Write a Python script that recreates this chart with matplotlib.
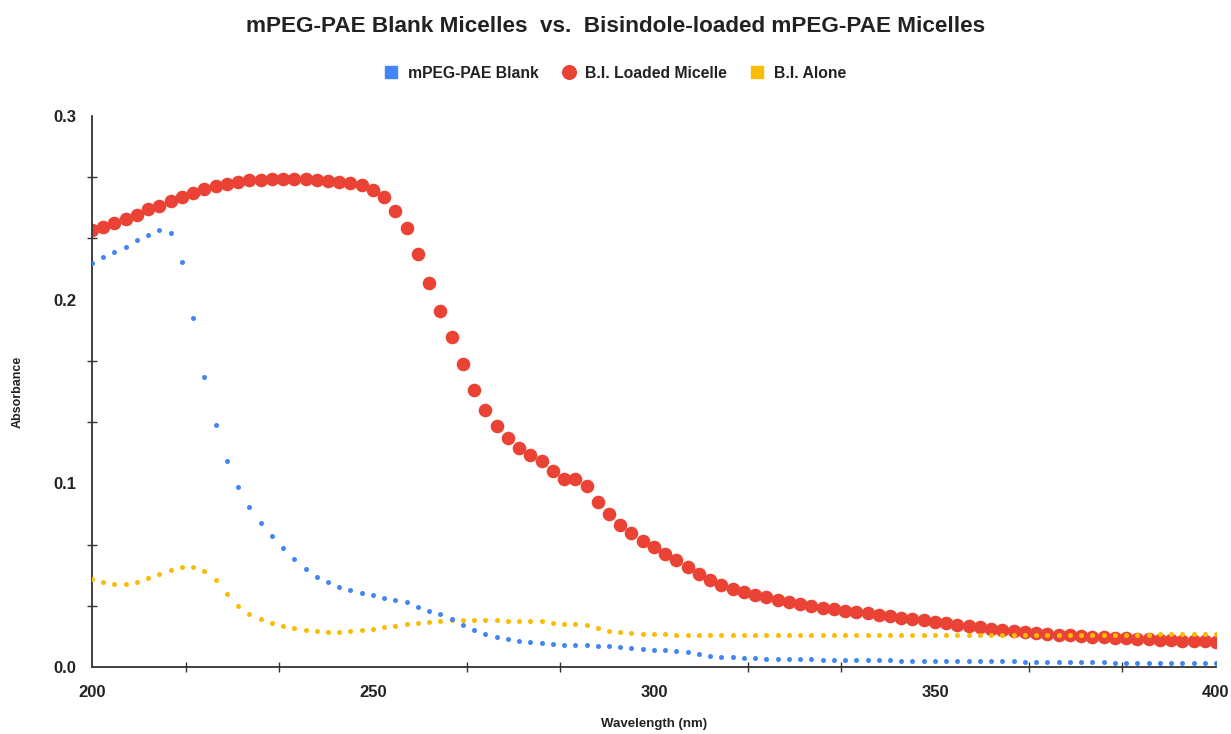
import matplotlib
matplotlib.use("Agg")
import matplotlib.pyplot as plt
from matplotlib.ticker import MultipleLocator, FormatStrFormatter
from matplotlib.lines import Line2D

plt.rcParams['font.family'] = ['Liberation Sans', 'DejaVu Sans']

wavelength = list(range(200, 401, 2))

bi_loaded = [
    0.2379, 0.2397, 0.2419, 0.2439, 0.2461, 0.2493, 0.2511, 0.2537, 0.2560, 0.2579,
    0.2600, 0.2617, 0.2629, 0.2640, 0.2649, 0.2653, 0.2656, 0.2658, 0.2658, 0.2656,
    0.2651, 0.2647, 0.2642, 0.2635, 0.2622, 0.2595, 0.2557, 0.2484, 0.2390, 0.2248,
    0.2089, 0.1940, 0.1798, 0.1648, 0.1508, 0.1400, 0.1314, 0.1245, 0.1194, 0.1156,
    0.1121, 0.1067, 0.1025, 0.1023, 0.0985, 0.0900, 0.0831, 0.0773, 0.0728, 0.0686,
    0.0652, 0.0615, 0.0580, 0.0543, 0.0506, 0.0475, 0.0448, 0.0426, 0.0408, 0.0394,
    0.0379, 0.0366, 0.0355, 0.0343, 0.0332, 0.0323, 0.0314, 0.0306, 0.0300, 0.0292,
    0.0284, 0.0276, 0.0268, 0.0261, 0.0254, 0.0245, 0.0238, 0.0230, 0.0223, 0.0216,
    0.0209, 0.0201, 0.0196, 0.0191, 0.0185, 0.0180, 0.0176, 0.0172, 0.0169, 0.0165,
    0.0162, 0.0158, 0.0156, 0.0152, 0.0151, 0.0147, 0.0145, 0.0143, 0.0142, 0.0140,
    0.0138,
]

blank = [
    0.2201, 0.2230, 0.2257, 0.2288, 0.2323, 0.2352, 0.2379, 0.2361, 0.2205, 0.1900,
    0.1580, 0.1320, 0.1120, 0.0980, 0.0873, 0.0786, 0.0711, 0.0646, 0.0586, 0.0533,
    0.0490, 0.0461, 0.0437, 0.0419, 0.0404, 0.0392, 0.0377, 0.0366, 0.0352, 0.0328,
    0.0306, 0.0287, 0.0261, 0.0229, 0.0202, 0.0181, 0.0163, 0.0152, 0.0143, 0.0134,
    0.0129, 0.0125, 0.0121, 0.0120, 0.0118, 0.0116, 0.0113, 0.0107, 0.0102, 0.0098,
    0.0094, 0.0093, 0.0089, 0.0082, 0.0071, 0.0060, 0.0054, 0.0053, 0.0049, 0.0047,
    0.0046, 0.0044, 0.0043, 0.0042, 0.0041, 0.0040, 0.0040, 0.0039, 0.0038, 0.0037,
    0.0037, 0.0036, 0.0035, 0.0035, 0.0034, 0.0034, 0.0033, 0.0033, 0.0032, 0.0031,
    0.0031, 0.0030, 0.0030, 0.0029, 0.0028, 0.0028, 0.0027, 0.0027, 0.0026, 0.0026,
    0.0025, 0.0024, 0.0024, 0.0023, 0.0023, 0.0022, 0.0022, 0.0021, 0.0021, 0.0020,
    0.0020,
]

bi_alone = [
    0.0477, 0.0461, 0.0452, 0.0452, 0.0464, 0.0484, 0.0508, 0.0530, 0.0544, 0.0544,
    0.0524, 0.0474, 0.0397, 0.0334, 0.0289, 0.0261, 0.0240, 0.0223, 0.0212, 0.0203,
    0.0196, 0.0193, 0.0193, 0.0196, 0.0201, 0.0208, 0.0218, 0.0225, 0.0232, 0.0240,
    0.0245, 0.0250, 0.0254, 0.0256, 0.0257, 0.0256, 0.0255, 0.0252, 0.0252, 0.0252,
    0.0249, 0.0241, 0.0234, 0.0234, 0.0227, 0.0211, 0.0196, 0.0189, 0.0183, 0.0181,
    0.0178, 0.0177, 0.0174, 0.0174, 0.0174, 0.0174, 0.0174, 0.0174, 0.0174, 0.0174,
    0.0174, 0.0174, 0.0174, 0.0174, 0.0174, 0.0174, 0.0173, 0.0173, 0.0173, 0.0173,
    0.0173, 0.0173, 0.0173, 0.0173, 0.0173, 0.0173, 0.0173, 0.0173, 0.0173, 0.0173,
    0.0173, 0.0174, 0.0174, 0.0174, 0.0174, 0.0174, 0.0175, 0.0175, 0.0175, 0.0175,
    0.0175, 0.0176, 0.0176, 0.0176, 0.0176, 0.0177, 0.0177, 0.0177, 0.0178, 0.0178,
    0.0178,
]

series_names = ["mPEG-PAE Blank", "B.I. Loaded Micelle", "B.I. Alone"]
colors = ["#4285F4", "#EA4335", "#FBBC04"]

fig = plt.figure(figsize=(12.31, 7.34), dpi=100)
ax = fig.add_axes([0.0747, 0.0913, 0.9131, 0.7507])

ax.scatter(wavelength, bi_alone, s=3.6**2, color=colors[2], linewidths=0, zorder=3)
ax.scatter(wavelength, blank, s=3.6**2, color=colors[0], linewidths=0, zorder=4)
ax.scatter(wavelength, bi_loaded, s=9.8**2, color=colors[1], linewidths=0, zorder=2)

ax.set_xlim(200, 400)
ax.set_ylim(0, 0.3)

for side in ["top", "right"]:
    ax.spines[side].set_visible(False)
for side in ["left", "bottom"]:
    ax.spines[side].set_color("#333333")
    ax.spines[side].set_linewidth(1.3)

ax.xaxis.set_major_locator(MultipleLocator(50))
ax.xaxis.set_minor_locator(MultipleLocator(50 / 3))
ax.yaxis.set_major_locator(MultipleLocator(0.1))
ax.yaxis.set_minor_locator(MultipleLocator(0.1 / 3))
ax.yaxis.set_major_formatter(FormatStrFormatter("%.1f"))
ax.xaxis.set_major_formatter(FormatStrFormatter("%d"))

ax.tick_params(which="major", length=0, labelsize=12, labelcolor="#222222")
ax.tick_params(axis="x", which="major", pad=13)
ax.tick_params(axis="y", which="major", pad=11)
ax.tick_params(which="minor", direction="inout", length=7, width=1, color="#333333")
for lab in ax.get_xticklabels() + ax.get_yticklabels():
    lab.set_fontweight("bold")

ax.set_xlabel("Wavelength (nm)", fontsize=9.5, fontweight="bold", color="#222222")
ax.xaxis.set_label_coords(0.5, (667 - 724) / 551)
ax.xaxis.label.set_verticalalignment("center")
ax.set_ylabel("Absorbance", fontsize=9, fontweight="bold", color="#222222")
ax.yaxis.set_label_coords((18 - 92) / 1124, 0.5)
ax.yaxis.label.set_verticalalignment("center")

fig.text(0.5, 1 - 27 / 734, "mPEG-PAE Blank Micelles  vs.  Bisindole-loaded mPEG-PAE Micelles",
         fontsize=16.2, fontweight="bold", color="#222222", ha="center", va="center")

handles = [
    Line2D([], [], linestyle="none", marker="s", markersize=8.6, color=colors[0]),
    Line2D([], [], linestyle="none", marker="o", markersize=9.8, color=colors[1]),
    Line2D([], [], linestyle="none", marker="s", markersize=8.6, color=colors[2]),
]
leg = fig.legend(handles, series_names, loc="center", bbox_to_anchor=(0.5, 1 - 73 / 734), ncol=3,
                 frameon=False, handletextpad=0.65, columnspacing=1.5, handlelength=0.8,
                 prop={"size": 11.35, "weight": "bold"})
for t in leg.get_texts():
    t.set_color("#222222")

fig.savefig("out.png", dpi=100)
